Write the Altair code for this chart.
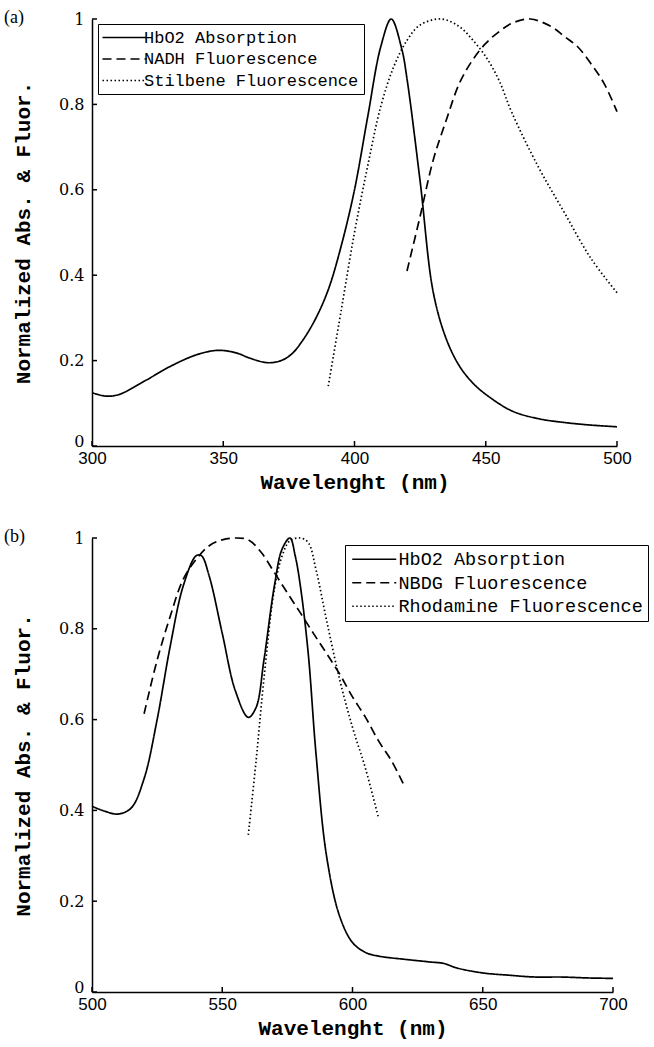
import altair as alt
import pandas as pd

# ---------------- Panel (a) data ----------------
a_hbo2_wl = [300, 305, 310, 320, 330, 340, 348, 355, 360, 367, 372, 376, 380, 385, 390,
             395, 400, 405, 410, 414, 418, 420, 425, 430, 435, 440, 445, 450, 460, 470,
             480, 490, 500]
a_hbo2_val = [0.125, 0.117, 0.12, 0.152, 0.187, 0.214, 0.224, 0.218, 0.206, 0.195, 0.2,
              0.215, 0.245, 0.296, 0.366, 0.47, 0.6, 0.77, 0.935, 1.0, 0.93, 0.86, 0.62,
              0.36, 0.25, 0.187, 0.148, 0.121, 0.082, 0.064, 0.055, 0.049, 0.045]

a_nadh_wl = [420, 425, 430, 435, 440, 445, 450, 455, 460, 467, 475, 480, 485, 490, 495, 500]
a_nadh_val = [0.41, 0.538, 0.67, 0.764, 0.85, 0.904, 0.943, 0.97, 0.99, 1.0, 0.982, 0.959,
              0.935, 0.896, 0.85, 0.783]

a_stil_wl = [390, 395, 400, 405, 410, 415, 420, 425, 433, 440, 445, 450, 455, 460, 470,
             480, 490, 500]
a_stil_val = [0.14, 0.32, 0.5, 0.655, 0.795, 0.889, 0.95, 0.986, 1.0, 0.982, 0.951, 0.912,
              0.857, 0.78, 0.654, 0.546, 0.44, 0.359]

a_names = ["HbO2 Absorption", "NADH Fluorescence", "Stilbene Fluorescence"]
a_xticks = [300, 350, 400, 450, 500]

# ---------------- Panel (b) data ----------------
b_hbo2_wl = [500, 505, 510, 515, 520, 525, 530, 535, 540, 542, 545, 550, 555, 560, 563,
             566, 570, 573, 576, 578, 580, 583, 586, 590, 595, 600, 605, 610, 620, 630,
             635, 640, 650, 660, 670, 680, 690, 700]
b_hbo2_val = [0.409, 0.398, 0.392, 0.405, 0.47, 0.6, 0.761, 0.894, 0.961, 0.961, 0.916,
              0.79, 0.664, 0.605, 0.627, 0.731, 0.894, 0.976, 1.0, 0.961, 0.894, 0.746,
              0.524, 0.301, 0.168, 0.109, 0.087, 0.079, 0.072, 0.066, 0.063, 0.053, 0.042,
              0.037, 0.033, 0.033, 0.031, 0.03]

b_nbdg_wl = [520, 525, 530, 535, 540, 545, 550, 555, 560, 565, 570, 575, 580, 585, 590,
             595, 600, 605, 610, 615, 620]
b_nbdg_val = [0.613, 0.731, 0.827, 0.909, 0.953, 0.983, 0.996, 1.0, 0.996, 0.968, 0.924,
              0.879, 0.835, 0.79, 0.746, 0.701, 0.65, 0.605, 0.553, 0.509, 0.453]

b_rhod_wl = [560, 563, 566, 570, 573, 576, 580, 583, 586, 590, 595, 600, 605, 610]
b_rhod_val = [0.346, 0.51, 0.69, 0.887, 0.961, 0.994, 1.0, 0.99, 0.93, 0.82, 0.69, 0.583,
              0.492, 0.383]

b_names = ["HbO2 Absorption", "NBDG Fluorescence", "Rhodamine Fluorescence"]
b_xticks = [500, 550, 600, 650, 700]

yticks = [0, 0.2, 0.4, 0.6, 0.8, 1]
dash_range = [[1, 0], [9, 5], [1.5, 2.5]]


def make_df(series):
    rows = []
    for name, wl, val in series:
        for i, (w, v) in enumerate(zip(wl, val)):
            rows.append({"series": name, "wl": w, "val": v, "order": i})
    return pd.DataFrame(rows)


def panel(df, names, xticks, w, h, label, lx, ly, lfont, rowpad, symoff, laboff):
    xscale = alt.Scale(domain=[xticks[0], xticks[-1]], nice=False, zero=False)
    yscale = alt.Scale(domain=[0, 1], nice=False)
    x_axis = alt.Axis(values=xticks, format="d", title="Wavelenght (nm)", grid=False,
                      tickSize=0, labelFont="Liberation Sans", labelFontSize=17,
                      labelPadding=4, labelFlush=False, labelColor="black",
                      titleFont="Liberation Mono", titleFontSize=21, titleFontWeight="bold",
                      titlePadding=5, titleColor="black", domainColor="black",
                      domainWidth=1.5)
    y_axis = alt.Axis(values=yticks, format="~g", title="Normalized Abs. & Fluor.",
                      grid=False, tickSize=0, labelFont="DejaVu Serif", labelFontSize=16,
                      labelPadding=8, labelFlush=False, labelColor="black",
                      labelBaseline={"condition": {"test": "datum.value === 0",
                                                   "value": "alphabetic"},
                                     "value": "middle"},
                      titleFont="Liberation Mono", titleFontSize=21, titleFontWeight="bold",
                      titlePadding=25, titleColor="black", domainColor="black",
                      domainWidth=1.5)
    lines = alt.Chart(df).mark_line(color="black", strokeWidth=1.7,
                                    interpolate="catmull-rom").encode(
        x=alt.X("wl:Q", scale=xscale, axis=x_axis),
        y=alt.Y("val:Q", scale=yscale, axis=y_axis),
        strokeDash=alt.StrokeDash(
            "series:N",
            scale=alt.Scale(domain=names, range=dash_range),
            legend=alt.Legend(title=None, orient="none", legendX=lx, legendY=ly,
                              strokeColor="black", fillColor="white", padding=5,
                              cornerRadius=0, symbolType="M-3,0H3", symbolSize=215,
                              symbolOffset=symoff, symbolStrokeWidth=1.7,
                              symbolStrokeColor="black",
                              labelFont="Liberation Mono", labelFontSize=lfont,
                              labelColor="black", labelOffset=laboff, rowPadding=rowpad,
                              labelLimit=400),
        ),
        order="order:Q",
    )
    xt = alt.Chart(pd.DataFrame({"wl": xticks})).mark_rule(color="black", strokeWidth=1.5).encode(
        x=alt.X("wl:Q", scale=xscale), y=alt.value(h), y2=alt.value(h - 5))
    yt = alt.Chart(pd.DataFrame({"val": yticks})).mark_rule(color="black", strokeWidth=1.5).encode(
        y=alt.Y("val:Q", scale=yscale), x=alt.value(0), x2=alt.value(5))
    lab = alt.Chart(pd.DataFrame({"t": [label]})).mark_text(
        align="left", baseline="middle", font="Liberation Serif", fontSize=18,
        color="black").encode(text="t:N", x=alt.value(-88), y=alt.value(-1))
    return alt.layer(lines, xt, yt, lab).properties(width=w, height=h)


df_a = make_df([(a_names[0], a_hbo2_wl, a_hbo2_val),
                (a_names[1], a_nadh_wl, a_nadh_val),
                (a_names[2], a_stil_wl, a_stil_val)])
df_b = make_df([(b_names[0], b_hbo2_wl, b_hbo2_val),
                (b_names[1], b_nbdg_wl, b_nbdg_val),
                (b_names[2], b_rhod_wl, b_rhod_val)])

pa = panel(df_a, a_names, a_xticks, 525, 427, "(a)", 6, 5, 17, 3.5, 13, 11)
pb = panel(df_b, b_names, b_xticks, 521, 454, "(b)", 253, 7, 18.5, 4.5, 15, 15)

chart = alt.vconcat(pa, pb, spacing=36).resolve_scale(
    x="independent", y="independent", strokeDash="independent"
).resolve_legend(strokeDash="independent").properties(
    padding={"left": 4, "top": 9, "right": 0, "bottom": 6},
    background="white",
).configure_view(strokeWidth=0)

chart.save("out.html", embed_options={"renderer": "svg", "actions": False})
